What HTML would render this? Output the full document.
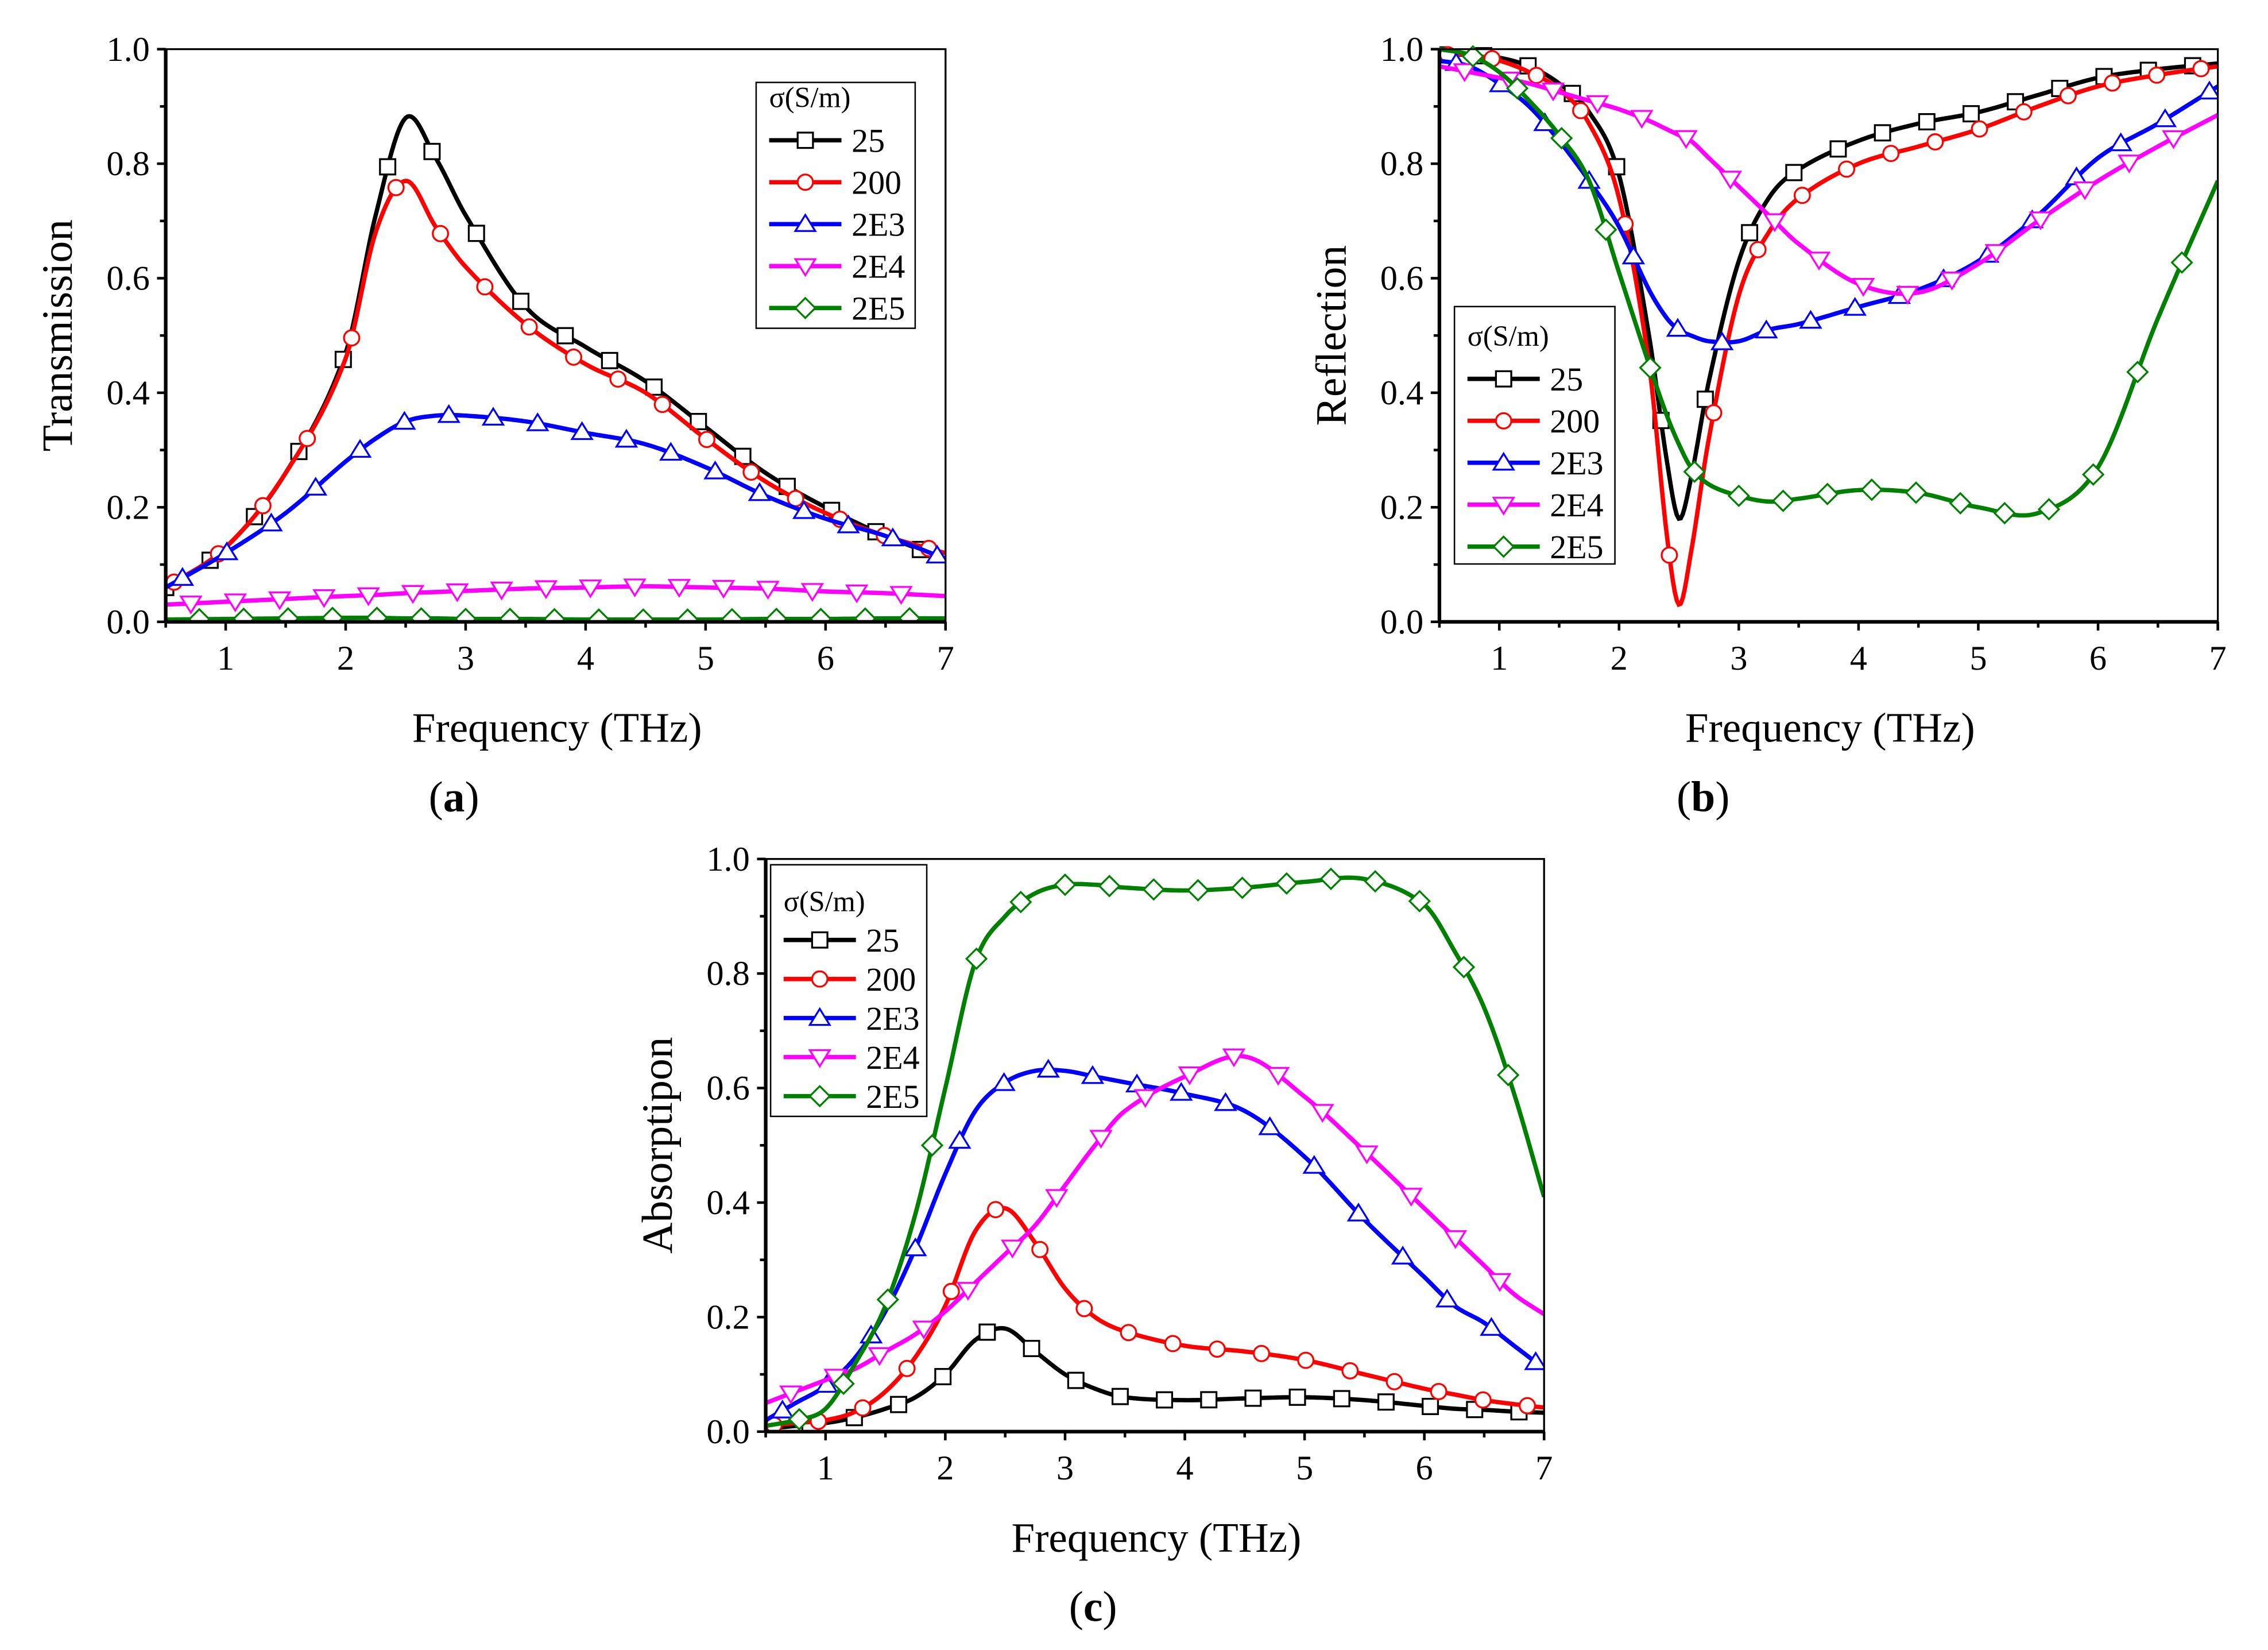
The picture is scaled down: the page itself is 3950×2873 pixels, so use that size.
<!DOCTYPE html>
<html><head><meta charset="utf-8"><style>
html,body{margin:0;padding:0;background:#fff;}
svg{display:block;}
text{font-family:"Liberation Serif",serif;}
</style></head><body>
<svg id="fig" width="3950" height="2873" viewBox="0 0 1568.7 1141" xmlns="http://www.w3.org/2000/svg"></svg>
<script>
// ===== Data =====
const seriesNames = ["25","200","2E3","2E4","2E5"];
const colors = ["#000000","#ff0000","#0000ff","#ff00ff","#008000"];
const markers = ["square","circle","triangle-up","triangle-down","diamond"];
const xTicks = [1,2,3,4,5,6,7];
const yTicks = ["0.0","0.2","0.4","0.6","0.8","1.0"];

const freqA = [0.5,1,1.5,2,2.25,2.5,2.75,3,3.5,4,4.5,5,5.5,6,6.5,7];
const transA25  = [0.06,0.13,0.26,0.47,0.71,0.88,0.81,0.71,0.55,0.48,0.42,0.34,0.26,0.20,0.15,0.11];
const transA200 = [0.06,0.13,0.26,0.46,0.68,0.77,0.69,0.62,0.52,0.45,0.40,0.32,0.245,0.19,0.15,0.12];
const transA2E3 = [0.06,0.12,0.19,0.28,0.32,0.35,0.36,0.36,0.35,0.33,0.31,0.27,0.22,0.18,0.15,0.11];
const transA2E4 = [0.03,0.035,0.04,0.045,0.047,0.05,0.052,0.054,0.058,0.06,0.062,0.06,0.058,0.053,0.05,0.045];
const transA2E5 = [0.004,0.005,0.006,0.007,0.007,0.006,0.006,0.005,0.005,0.004,0.004,0.004,0.005,0.005,0.006,0.006];

const freqB = [0.5,0.75,1,1.25,1.5,1.75,2,2.25,2.4,2.5,2.6,2.75,3,3.25,3.5,4,4.5,5,5.5,6,6.5,7];
const reflB25  = [0.99,0.99,0.985,0.97,0.94,0.89,0.78,0.50,0.28,0.18,0.25,0.42,0.63,0.74,0.79,0.84,0.87,0.89,0.92,0.95,0.965,0.975];
const reflB200 = [0.99,0.99,0.98,0.96,0.93,0.87,0.74,0.45,0.15,0.03,0.12,0.32,0.57,0.68,0.74,0.80,0.83,0.86,0.90,0.935,0.955,0.97];
const reflB2E3 = [0.98,0.97,0.94,0.90,0.84,0.77,0.69,0.58,0.53,0.51,0.50,0.49,0.49,0.51,0.52,0.55,0.58,0.63,0.71,0.81,0.87,0.935];
const reflB2E4 = [0.97,0.96,0.95,0.94,0.925,0.91,0.895,0.875,0.86,0.85,0.84,0.81,0.76,0.71,0.66,0.59,0.575,0.625,0.70,0.77,0.83,0.885];
const reflB2E5 = [1.0,0.99,0.96,0.91,0.85,0.77,0.61,0.45,0.36,0.31,0.27,0.24,0.22,0.21,0.215,0.23,0.225,0.20,0.19,0.27,0.53,0.77];

const freqC = [0.5,0.75,1,1.25,1.5,1.75,2,2.25,2.5,2.75,3,3.25,3.5,4,4.5,5,5.5,6,6.25,6.5,6.75,7];
const absC25  = [0.005,0.01,0.015,0.025,0.04,0.06,0.10,0.16,0.18,0.14,0.10,0.075,0.06,0.055,0.058,0.06,0.055,0.045,0.04,0.038,0.035,0.033];
const absC200 = [0.01,0.015,0.02,0.035,0.07,0.13,0.22,0.35,0.39,0.33,0.25,0.20,0.175,0.15,0.14,0.125,0.10,0.075,0.065,0.055,0.048,0.042];
const absC2E3 = [0.02,0.05,0.08,0.13,0.21,0.32,0.45,0.56,0.61,0.63,0.63,0.62,0.61,0.59,0.56,0.48,0.37,0.27,0.22,0.19,0.15,0.11];
const absC2E4 = [0.05,0.07,0.09,0.11,0.14,0.17,0.21,0.26,0.31,0.36,0.43,0.50,0.56,0.62,0.655,0.585,0.49,0.39,0.34,0.29,0.24,0.205];
const absC2E5 = [0.01,0.02,0.04,0.12,0.22,0.38,0.60,0.82,0.90,0.94,0.955,0.955,0.95,0.945,0.95,0.96,0.965,0.92,0.84,0.74,0.59,0.41];

const NS="http://www.w3.org/2000/svg";
const svg=document.getElementById('fig');
function mk(tag,attrs,parent){const e=document.createElementNS(NS,tag);for(const k in attrs)e.setAttribute(k,attrs[k]);(parent||svg).appendChild(e);return e;}

function interp(xs,ys){
  const n=xs.length,m=[];
  for(let i=0;i<n;i++){
    if(i===0)m[i]=(ys[1]-ys[0])/(xs[1]-xs[0]);
    else if(i===n-1)m[i]=(ys[n-1]-ys[n-2])/(xs[n-1]-xs[n-2]);
    else m[i]=(ys[i+1]-ys[i-1])/(xs[i+1]-xs[i-1]);
  }
  return x=>{let i=0;while(i<n-2&&x>xs[i+1])i++;const h=xs[i+1]-xs[i],t=(x-xs[i])/h,t2=t*t,t3=t2*t;
    return (2*t3-3*t2+1)*ys[i]+(t3-2*t2+t)*h*m[i]+(-2*t3+3*t2)*ys[i+1]+(t3-t2)*h*m[i+1];};
}

function marker(g,type,x,y,color,r){
  let e;
  if(type==="square")e=mk('rect',{x:x-r,y:y-r,width:2*r,height:2*r},g);
  else if(type==="circle")e=mk('circle',{cx:x,cy:y,r:r},g);
  else if(type==="triangle-up")e=mk('polygon',{points:`${x},${y-r*1.2} ${x-r*1.3},${y+r*0.9} ${x+r*1.3},${y+r*0.9}`},g);
  else if(type==="triangle-down")e=mk('polygon',{points:`${x},${y+r*1.2} ${x-r*1.3},${y-r*0.9} ${x+r*1.3},${y-r*0.9}`},g);
  else e=mk('polygon',{points:`${x},${y-r*1.3} ${x+r*1.3},${y} ${x},${y+r*1.3} ${x-r*1.3},${y}`},g);
  e.setAttribute('fill','#fff');e.setAttribute('stroke',color);e.setAttribute('stroke-width','1.3');
  
  
  return e;
}
const FF='"Liberation Serif", serif';

function panel(id,x0,x1,y0,y1,freq,series,ylabel,lab,legend){
  const g=mk('g',{});
  
  
  const sx=f=>x0+(f-0.5)/6.5*(x1-x0);
  const sy=v=>y0-v*(y0-y1);
  const clip=mk('clipPath',{id:'clip'+id},g);mk('rect',{x:x0,y:y1-10,width:x1-x0,height:y0-y1+10},clip);
  series.forEach((ys,si)=>{
    const f=interp(freq,ys);
    const sg=mk('g',{'clip-path':`url(#clip${id})`},g);
    
    
    let d='';
    for(let k=0;k<=400;k++){const xf=0.5+6.5*k/400;d+=(k?'L':'M')+sx(xf).toFixed(2)+','+sy(f(xf)).toFixed(2);}
    const p=mk('path',{d:d,fill:'none',stroke:colors[si],'stroke-width':3},sg);
    
    
    const step=0.37,off=0.5+0.07*si;
    for(let xf=off;xf<=7.0;xf+=step)marker(sg,markers[si],sx(xf),sy(f(xf)),colors[si],5.3);
  });
  const fr=mk('rect',{x:x0,y:y1,width:x1-x0,height:y0-y1,fill:'none',stroke:'#000','stroke-width':1.3},g);
  
  mk('line',{x1:x0,y1:y1,x2:x0,y2:y0,stroke:'#000','stroke-width':2.5},g);
  mk('line',{x1:x0,y1:y0,x2:x1,y2:y0,stroke:'#000','stroke-width':2.5},g);
  const xa=mk('g',{},g);
  for(let v=0.5;v<=7.001;v+=0.5){const major=Math.abs(v-Math.round(v))<1e-6;
    mk('line',{x1:sx(v),y1:y0,x2:sx(v),y2:y0+(major?6:4),stroke:'#000','stroke-width':1.8},xa);}
  xTicks.forEach(t=>{const tx=mk('text',{x:sx(t),y:y0+33,'font-size':24,'text-anchor':'middle','font-family':FF},xa);tx.textContent=t;
    });
  const ya=mk('g',{},g);
  for(let k=0;k<=10;k++){mk('line',{x1:x0,y1:sy(k/10),x2:x0-(k%2?4:6),y2:sy(k/10),stroke:'#000','stroke-width':1.8},ya);}
  yTicks.forEach(t=>{const tx=mk('text',{x:x0-11,y:sy(parseFloat(t))+8,'font-size':24,'text-anchor':'end','font-family':FF},ya);tx.textContent=t;
    });
  const xt=mk('text',{x:(x0+x1)/2+1,y:y0+83,'font-size':29,'text-anchor':'middle','font-family':FF},g);xt.textContent='Frequency (THz)';
  
  const yt=mk('text',{x:0,y:0,'font-size':30,'text-anchor':'middle','font-family':FF,transform:`translate(${x0-65},${(y0+y1)/2}) rotate(-90)`},g);yt.textContent=ylabel;
  
  const pl=mk('text',{x:lab[0],y:lab[1],'font-size':30,'text-anchor':'middle','font-family':FF},g);
  pl.innerHTML='(<tspan font-weight="bold">'+id+'</tspan>)';
  
  const [lx,ly,lw,lh,step,ty]=legend;
  const lg=mk('g',{},g);
  mk('rect',{x:lx,y:ly,width:lw,height:lh,fill:'#fff',stroke:'#000','stroke-width':1},lg);
  const tt=mk('text',{x:lx+9,y:ty+6,'font-size':20,'font-family':FF},lg);tt.textContent='σ(S/m)';
  
  seriesNames.forEach((n,i)=>{const yy=ty+(i+1)*step+(step>28?0:-1);
    const e=mk('g',{},lg);
    mk('line',{x1:lx+9,y1:yy,x2:lx+59,y2:yy,stroke:colors[i],'stroke-width':3},e);
    marker(e,markers[i],lx+34,yy,colors[i],5.3);
    const t=mk('text',{x:lx+66,y:yy+8,'font-size':23,'font-family':FF},e);t.textContent=n;});
}

panel('a',114.6,654,430,34,freqA,[transA25,transA200,transA2E3,transA2E4,transA2E5],'Transmission',[314,561],[523,57,110,170,29,68]);
panel('b',995.6,1534,430,34,freqB,[reflB25,reflB200,reflB2E3,reflB2E4,reflB2E5],'Reflection',[1178,561],[1006,212,111,178,29,233]);
panel('c',529.6,1068,990,594,freqC,[absC25,absC200,absC2E3,absC2E4,absC2E5],'Absorptipon',[756,1121],[533,598,108,174,27,624]);
</script>
</body></html>
